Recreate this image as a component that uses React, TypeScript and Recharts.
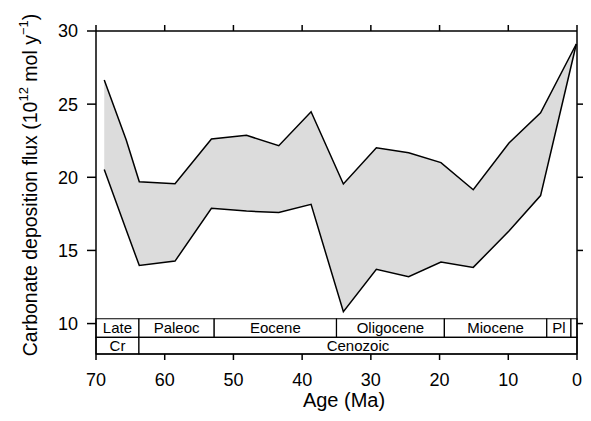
import React from 'react';
import {
  ComposedChart,
  Area,
  Line,
  XAxis,
  YAxis,
  ReferenceArea,
} from 'recharts';

// Ages (Ma) where the two bounding curves change slope
const ages = [68.8, 65.6, 63.7, 58.5, 53.2, 48.1, 43.4, 38.7, 34.0, 29.2, 24.5, 19.8, 15.1, 9.9, 5.3, 0.1];
// Upper and lower bounds of carbonate deposition flux (10^12 mol/y)
const upperFlux = [26.65, 22.55, 19.7, 19.56, 22.62, 22.87, 22.16, 24.48, 19.54, 22.02, 21.68, 21.0, 19.15, 22.34, 24.41, 29.11];
const lowerFlux = [20.54, 16.39, 13.97, 14.27, 17.88, 17.69, 17.6, 18.15, 10.81, 13.71, 13.2, 14.21, 13.84, 16.33, 18.75, 29.11];

const xTicks = [0, 10, 20, 30, 40, 50, 60, 70];
const yTicks = [10, 15, 20, 25, 30];
const yTicksRight = [10, 15, 20, 25];

// Geologic time scale (age boundaries in Ma)
const epochs = [
  { name: 'Late', from: 70, to: 63.75 },
  { name: 'Paleoc', from: 63.75, to: 52.8 },
  { name: 'Eocene', from: 52.8, to: 35 },
  { name: 'Oligocene', from: 35, to: 19.3 },
  { name: 'Miocene', from: 19.3, to: 4.4 },
  { name: 'Pl', from: 4.4, to: 0.88 },
  { name: '', from: 0.88, to: 0 },
];
const eras = [
  { name: 'Cr', from: 70, to: 63.75 },
  { name: 'Cenozoic', from: 63.75, to: 0 },
];

const Y_MIN = 7.92;
const Y_MAX = 30;
const EPOCH_TOP = 10.33;
const ERA_TOP = 9.06;

const data = ages.map((age, i) => ({
  age,
  upper: upperFlux[i],
  lower: lowerFlux[i],
  band: [lowerFlux[i], upperFlux[i]],
}));

const font = 'Liberation Sans, Arial, Helvetica, sans-serif';

const YTitle = () => (
  <text
    x={22}
    y={177}
    transform="rotate(-90, 22, 177)"
    textAnchor="middle"
    dominantBaseline="central"
    fontSize={19.5}
    fontFamily={font}
    fill="#000"
  >
    Carbonate deposition flux (10
    <tspan fontSize={13} dy={-7}>12</tspan>
    <tspan dy={7}> mol y</tspan>
    <tspan fontSize={13} dy={-7}>−1</tspan>
    <tspan dy={7}>)</tspan>
  </text>
);

const XTitle = () => (
  <text
    x={336}
    y={392}
    textAnchor="middle"
    dominantBaseline="central"
    fontSize={20}
    fontFamily={font}
    fill="#000"
  >
    Age (Ma)
  </text>
);

export default function App() {
  const tickStyle = { fill: '#000', fontSize: 18, fontFamily: font };
  const axisLine = { stroke: '#000', strokeWidth: 1.5 };
  return (
    <div style={{ fontFamily: font }}>
      <ComposedChart
        width={583}
        height={405}
        data={data}
        margin={{ top: 3, right: 13, bottom: 0, left: 0 }}
      >
        <XAxis
          dataKey="age"
          type="number"
          domain={[0, 70]}
          reversed
          ticks={xTicks}
          interval={0}
          tick={tickStyle}
          tickSize={6}
          tickMargin={13}
          axisLine={axisLine}
          tickLine={axisLine}
          height={59}
          label={{ content: () => <XTitle /> }}
        />
        <XAxis
          xAxisId="top"
          orientation="top"
          dataKey="age"
          type="number"
          domain={[0, 70]}
          allowDataOverflow
          scale="linear"
          reversed
          ticks={xTicks}
          interval={0}
          tickFormatter={() => ''}
          tickSize={6}
          axisLine={axisLine}
          tickLine={axisLine}
          height={20}
        />
        <YAxis
          type="number"
          domain={[Y_MIN, Y_MAX]}
          ticks={yTicks}
          interval={0}
          tick={tickStyle}
          tickSize={9}
          tickMargin={9}
          axisLine={axisLine}
          tickLine={axisLine}
          width={88}
          label={{ content: () => <YTitle /> }}
        />
        <YAxis
          yAxisId="right"
          orientation="right"
          type="number"
          domain={[Y_MIN, Y_MAX]}
          ticks={yTicksRight}
          interval={0}
          tickFormatter={() => ''}
          tickSize={9}
          axisLine={axisLine}
          tickLine={axisLine}
          width={1}
        />
        <Area
          dataKey="band"
          type="linear"
          fill="#dcdcdc"
          fillOpacity={1}
          stroke="none"
          isAnimationActive={false}
        />
        <Line dataKey="upper" type="linear" stroke="#000" strokeWidth={1.5} dot={false} isAnimationActive={false} />
        <Line dataKey="lower" type="linear" stroke="#000" strokeWidth={1.5} dot={false} isAnimationActive={false} />
        {/* invisible copy so the frame axes (top / right) get a series bound to them */}
        <Line
          xAxisId="top"
          yAxisId="right"
          dataKey="upper"
          type="linear"
          stroke="none"
          dot={false}
          activeDot={false}
          legendType="none"
          isAnimationActive={false}
        />
        {epochs.map((e) => (
          <ReferenceArea
            key={'ep' + e.from}
            x1={e.from}
            x2={e.to}
            y1={ERA_TOP}
            y2={EPOCH_TOP}
            fill="#fff"
            fillOpacity={1}
            stroke="#000"
            strokeWidth={1.2}
            ifOverflow="visible"
            label={{ value: e.name, position: 'center', fontSize: 15, fill: '#000', fontFamily: font }}
          />
        ))}
        {eras.map((e) => (
          <ReferenceArea
            key={'er' + e.from}
            x1={e.from}
            x2={e.to}
            y1={Y_MIN}
            y2={ERA_TOP}
            fill="#fff"
            fillOpacity={1}
            stroke="#000"
            strokeWidth={1.2}
            ifOverflow="visible"
            label={{ value: e.name, position: 'center', fontSize: 15, fill: '#000', fontFamily: font }}
          />
        ))}
      </ComposedChart>
    </div>
  );
}
